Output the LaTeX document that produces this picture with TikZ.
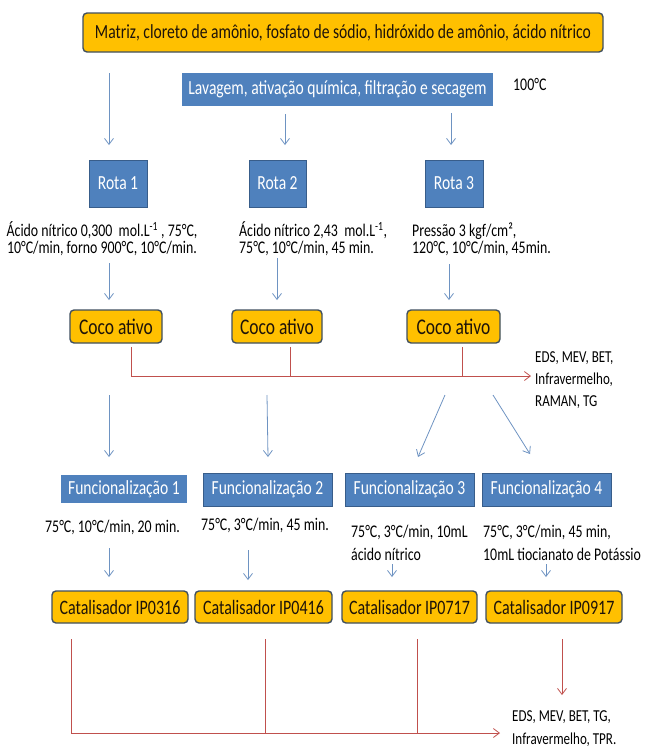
\documentclass[tikz,border=0pt]{standalone}
\usepackage{fontspec}
\setmainfont{Carlito}[FakeStretch=0.78]
\usetikzlibrary{arrows.meta}

\definecolor{laranja}{HTML}{FFC000}
\definecolor{azul}{HTML}{4F81BD}
\definecolor{azulesc}{HTML}{385D8A}
\definecolor{borda}{HTML}{3F4F5F}
\definecolor{vermelho}{HTML}{C0504D}
\definecolor{seta}{HTML}{6E93C2}

\begin{document}
\begin{tikzpicture}[x=1pt,y=-1pt,
  caixa/.style={draw=borda,line width=1.4pt,fill=laranja,rounded corners=4pt,
    inner sep=0pt,text=black!85!brown,font=\fontsize{20}{22}\selectfont},
  bloco/.style={fill=azul,draw=azulesc,line width=0.6pt,text=white,
    inner sep=0pt,font=\fontsize{20}{22}\selectfont},
  nota/.style={inner sep=0pt,align=left,font=\fontsize{17.8}{17}\selectfont},
  >={Straight Barb[length=6pt,width=9pt]},
  fluxo/.style={seta,line width=0.8pt,->},
  analise/.style={vermelho,line width=0.8pt}]
  \useasboundingbox (0,0) rectangle (654,753);

  % reagentes e lavagem
  \node[caixa,minimum width=520,minimum height=39] (matriz) at (343,32.5)
    {Matriz, cloreto de amônio, fosfato de sódio, hidróxido de amônio, ácido nítrico};
  \node[bloco,draw=none,minimum width=311,minimum height=33] (lavagem) at (337.5,89.5)
    {Lavagem, ativação química, filtração e secagem};
  \node[nota,anchor=west] (temp) at (513,84) {100°C};

  % rotas
  \foreach \n/\x/\w in {1/118/58, 2/277.5/57, 3/454/58} {
    \node[bloco,minimum width=\w,minimum height=47] (rota\n) at (\x,183.5) {Rota \n};
  }
  \node[nota,align=center] (cond1) at (102,239)
    {Ácido nítrico 0,300 \ mol.L\textsuperscript{-1} , 75°C,\\10°C/min, forno 900°C, 10°C/min.};
  \node[nota,anchor=west] (cond2) at (239,239)
    {Ácido nítrico 2,43 \ mol.L\textsuperscript{-1},\\75°C, 10°C/min, 45 min.};
  \node[nota,anchor=west] (cond3) at (412,239)
    {Pressão 3 kgf/cm²,\\120°C, 10°C/min, 45min.};

  % coco ativo
  \foreach \n/\x/\w in {1/116/92, 2/277/90, 3/453.5/93} {
    \node[caixa,minimum width=\w,minimum height=33,font=\fontsize{22.4}{24}\selectfont]
      (coco\n) at (\x,326.5) {Coco ativo};
  }
  \node[nota,anchor=west,font=\fontsize{16.7}{22}\selectfont] (anal1) at (535,380)
    {EDS, MEV, BET,\\Infravermelho,\\RAMAN, TG};

  % funcionalizacoes
  \node[bloco,draw=none,minimum width=126,minimum height=28] (func1) at (124,489)
    {Funcionalização 1};
  \foreach \n/\x in {2/267.5, 3/409.5, 4/546.5} {
    \node[bloco,minimum width=129,minimum height=33] (func\n) at (\x,489.5)
      {Funcionalização \n};
  }
  \node[nota,anchor=west] (cond5) at (45,527) {75°C, 10°C/min, 20 min.};
  \node[nota,anchor=west] (cond6) at (201,525) {75°C, 3°C/min, 45 min.};
  \node[nota,anchor=west,font=\fontsize{17.8}{23}\selectfont] (cond7) at (351,542.5)
    {75°C, 3°C/min, 10mL\\ácido nítrico};
  \node[nota,anchor=west,font=\fontsize{17.8}{23}\selectfont] (cond8) at (483,542.5)
    {75°C, 3°C/min, 45 min,\\10mL tiocianato de Potássio};

  % catalisadores
  \foreach \n/\x/\w/\t in {1/120/136/IP0316, 2/263.5/137/IP0416,
                           3/409.5/135/IP0717, 4/554/136/IP0917} {
    \node[caixa,minimum width=\w,minimum height=32,font=\fontsize{20.5}{22}\selectfont]
      (cat\n) at (\x,607) {Catalisador \t};
  }
  \node[nota,anchor=west,font=\fontsize{16.7}{23}\selectfont] (anal2) at (512,728.5)
    {EDS, MEV, BET, TG,\\Infravermelho, TPR.};

  % setas do fluxo
  \foreach \i/\xa/\ya/\xb/\yb in {1/109/73/109/145, 2/285/114/285/145, 3/451/113/451/145,
      4/109/263/109/300, 5/277/258/277/300, 6/449/264/449/300,
      7/109/395/109/457, 8/267/395/268/457, 9/445/395/418/457, 10/493/395/530/454,
      11/109/548/109/577, 12/248/550/248/580, 13/392/564/392/577, 14/546/564/546/577} {
    \coordinate (s\i) at (\xa,\ya);
    \coordinate (e\i) at (\xb,\yb);
    \draw[fluxo] (s\i) -- (e\i);
  }

  % caracterizacao
  \coordinate (h1) at (131,376);
  \coordinate (h2) at (531,376);
  \foreach \x in {131, 290, 462} {
    \draw[analise] (\x,347) -- (\x,376);
  }
  \draw[analise,->] (h1) -- (h2);
  \coordinate (h3) at (71,733);
  \coordinate (h4) at (500,733);
  \foreach \x in {71, 265, 417} {
    \draw[analise] (\x,639) -- (\x,733);
  }
  \draw[analise,->] (h3) -- (h4);
  \coordinate (v1) at (562,639);
  \coordinate (v2) at (562,695);
  \draw[analise,->] (v1) -- (v2);
\end{tikzpicture}
\end{document}
